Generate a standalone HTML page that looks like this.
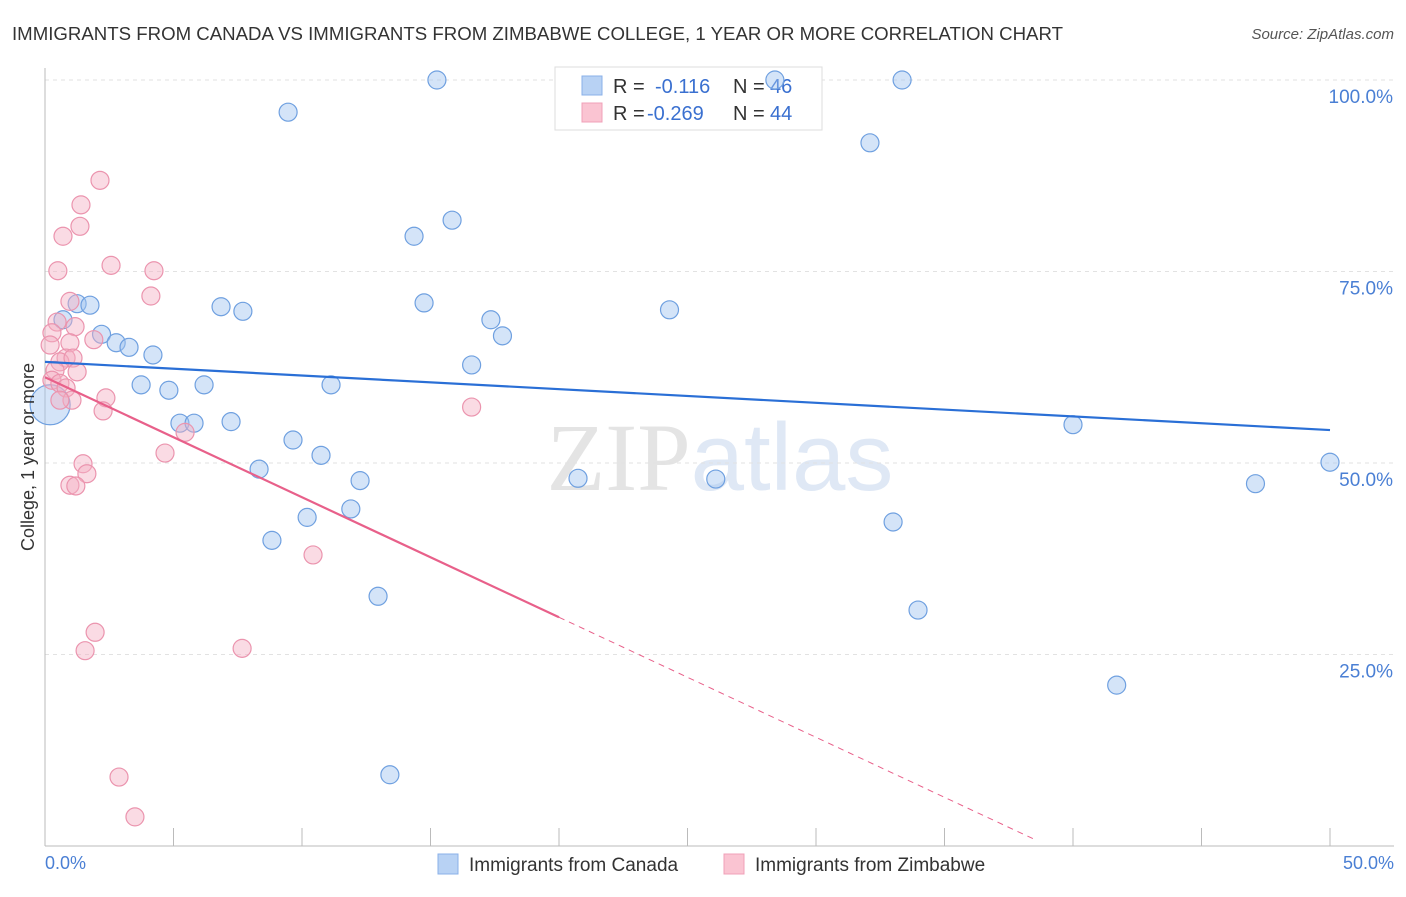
<!DOCTYPE html>
<html><head><meta charset="utf-8"><style>
body{margin:0;background:#fff;font-family:"Liberation Sans",sans-serif;}
svg text{font-family:"Liberation Sans",sans-serif;}
</style></head><body>
<svg id="chart" width="1406" height="892" xmlns="http://www.w3.org/2000/svg">
<text x="12" y="40" font-size="18" fill="#333" textLength="1051" lengthAdjust="spacingAndGlyphs">IMMIGRANTS FROM CANADA VS IMMIGRANTS FROM ZIMBABWE COLLEGE, 1 YEAR OR MORE CORRELATION CHART</text>
<text x="1394" y="39" font-size="15" fill="#555" font-style="italic" text-anchor="end">Source: ZipAtlas.com</text>
<text x="720" y="490" font-size="96" fill="#e4e4e4" text-anchor="middle" font-family="Liberation Serif"><tspan font-family="Liberation Serif">ZIP</tspan><tspan font-family="Liberation Sans" fill="#dfe8f5">atlas</tspan></text>
<g id="grid"></g>
<g id="axes"></g>
<g>
<rect x="555" y="67" width="267" height="63" fill="#fff" stroke="#ddd"/>
<rect x="582" y="76" width="20" height="19" fill="#b8d2f4" stroke="#8ab0e8"/>
<rect x="582" y="103" width="20" height="19" fill="#fac4d2" stroke="#f0a0b8"/>
<text x="613" y="93" font-size="20" fill="#333">R = </text><text x="655" y="93" font-size="20" fill="#3a70d0">-0.116</text>
<text x="733" y="93" font-size="20" fill="#333">N = </text><text x="770" y="93" font-size="20" fill="#3a70d0">46</text>
<text x="613" y="120" font-size="20" fill="#333">R = </text><text x="647" y="120" font-size="20" fill="#3a70d0">-0.269</text>
<text x="733" y="120" font-size="20" fill="#333">N = </text><text x="770" y="120" font-size="20" fill="#3a70d0">44</text>
</g>
<g id="pts"></g>
<g id="trend"></g>
<text transform="translate(34,457) rotate(-90)" font-size="18" fill="#333" text-anchor="middle">College, 1 year or more</text>
<text x="45" y="869" font-size="18" fill="#4a7fd4">0.0%</text>
<text x="1394" y="869" font-size="18" fill="#4a7fd4" text-anchor="end">50.0%</text>
<g>
<rect x="438" y="854" width="20" height="20" fill="#b8d2f4" stroke="#8ab0e8"/>
<text x="469" y="871" font-size="19" fill="#333">Immigrants from Canada</text>
<rect x="724" y="854" width="20" height="20" fill="#fac4d2" stroke="#f0a0b8"/>
<text x="755" y="871" font-size="19" fill="#333">Immigrants from Zimbabwe</text>
</g>
</svg>
<script>
const yTicks=[25,50,75,100];
const yTickLabels=["25.0%","50.0%","75.0%","100.0%"];
const canadaX=[15.25,28.4,33.35,9.46,32.1,15.84,14.36,0.7,1.25,1.75,6.85,7.7,14.75,24.3,17.35,17.8,2.2,2.77,3.27,4.2,16.6,3.74,4.82,6.19,11.13,5.25,5.8,7.24,40.0,9.65,10.74,8.33,50,20.74,26.1,12.26,47.1,11.9,10.2,33.0,8.83,12.96,33.97,41.7,13.42,0.2];
const canadaY=[100,100,100,95.8,91.8,81.7,79.6,68.7,70.8,70.6,70.4,69.8,70.9,70.0,68.7,66.6,66.8,65.7,65.1,64.1,62.8,60.2,59.5,60.2,60.2,55.2,55.2,55.4,55.0,53.0,51.0,49.2,50.1,48.0,47.9,47.7,47.3,44.0,42.9,42.3,39.9,32.6,30.8,21.0,9.3,57.6];
const zimX=[2.14,1.4,1.36,0.7,0.5,2.57,4.24,4.12,0.97,0.47,1.17,0.27,0.2,0.97,1.9,0.82,0.58,1.09,0.39,1.25,0.27,0.58,0.82,2.37,1.05,0.58,2.26,16.6,5.45,4.67,1.48,1.63,0.97,1.2,10.43,1.95,1.56,7.67,2.88,3.5];
const zimY=[86.9,83.7,80.9,79.6,75.1,75.8,75.1,71.8,71.1,68.4,67.8,67.0,65.4,65.7,66.1,63.7,63.2,63.7,62.1,61.9,60.8,60.4,59.8,58.5,58.2,58.2,56.8,57.3,54.0,51.3,49.9,48.6,47.1,47.0,38.0,27.9,25.5,25.8,9.0,3.8];
const canadaTrend=[63.2,54.3];
const zimTrend=[61.2,-1.567];
const NS="http://www.w3.org/2000/svg";
const xs=v=>45+v*25.7;
const ys=v=>846-v*7.66;
function mk(t,a,p){const e=document.createElementNS(NS,t);for(const k in a)e.setAttribute(k,a[k]);p.appendChild(e);return e;}
const grid=document.getElementById('grid'),axes=document.getElementById('axes'),pts=document.getElementById('pts'),tr=document.getElementById('trend');
yTicks.forEach((t,i)=>{
 const l=mk('line',{x1:45,x2:1394,y1:ys(t),y2:ys(t),stroke:'#e2e2e2','stroke-dasharray':'4,4'},grid);
 
 
 const tx=mk('text',{x:1393,y:ys(t)+23,'font-size':19,fill:'#4a7fd4','text-anchor':'end'},grid);
 tx.textContent=yTickLabels[i];
 
 
});
const ya=mk('line',{x1:45,x2:45,y1:68,y2:846,stroke:'#bbb'},axes);


const xa=mk('line',{x1:45,x2:1394,y1:846,y2:846,stroke:'#bbb'},axes);


for(let i=0;i<=10;i++){
 const tk=mk('line',{x1:xs(i*5),x2:xs(i*5),y1:828,y2:846,stroke:'#bbb'},axes);
 
 
}
canadaX.forEach((x,i)=>{
 const r=i===canadaX.length-1?20:9;
 const c=mk('circle',{cx:xs(x),cy:ys(canadaY[i]),r:r,fill:'rgba(160,196,240,0.45)',stroke:'#6fa0e0','stroke-width':1.2},pts);
 
 
});
zimX.forEach((x,i)=>{
 const c=mk('circle',{cx:xs(x),cy:ys(zimY[i]),r:9,fill:'rgba(245,176,196,0.45)',stroke:'#eb94ae','stroke-width':1.2},pts);
 
 
});
const bl=mk('line',{x1:xs(0),y1:ys(canadaTrend[0]),x2:xs(50),y2:ys(canadaTrend[1]),stroke:'#2a6fd6','stroke-width':2.2},tr);


const zf=v=>zimTrend[0]+zimTrend[1]*v;
const pl=mk('line',{x1:xs(0),y1:ys(zf(0)),x2:xs(20),y2:ys(zf(20)),stroke:'#e8608a','stroke-width':2.2},tr);


const pd=mk('line',{x1:xs(20),y1:ys(zf(20)),x2:xs(38.6),y2:ys(zf(38.6)),stroke:'#e8608a','stroke-width':1,'stroke-dasharray':'6,5'},tr);


</script>
</body></html>
